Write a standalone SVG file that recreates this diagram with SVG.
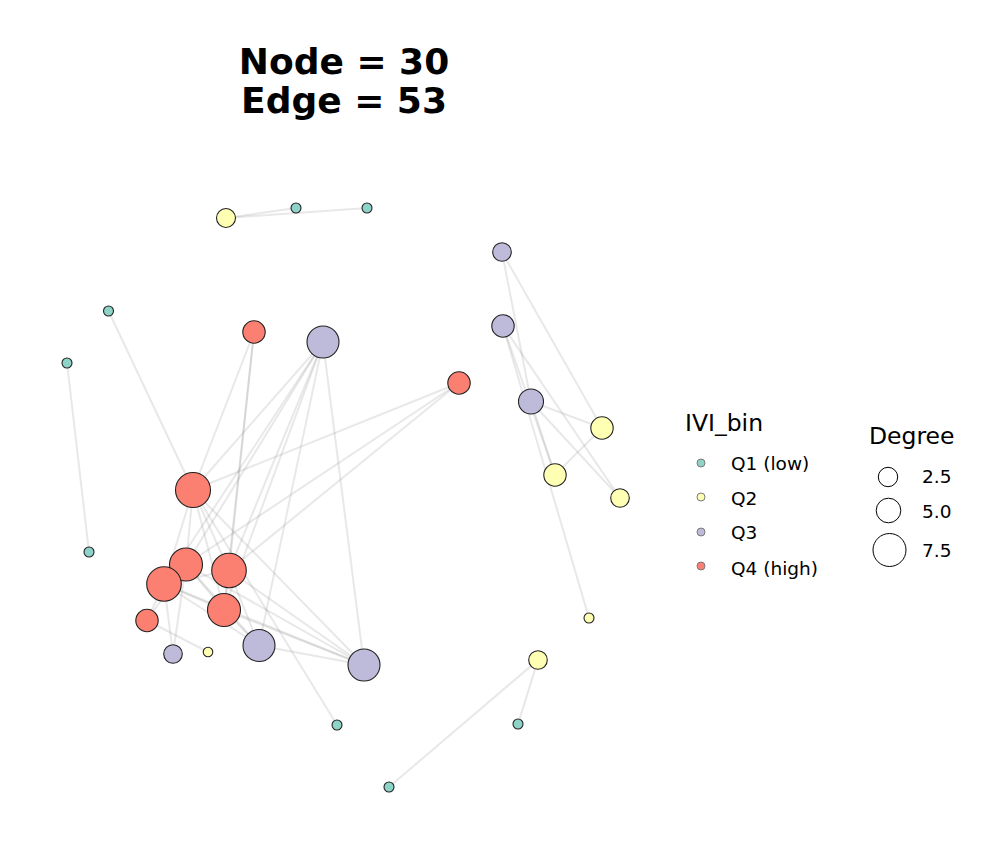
<svg xmlns="http://www.w3.org/2000/svg" width="1008" height="864" viewBox="0 0 1008 864">
<style>
text{font-family:"DejaVu Sans","Liberation Sans",sans-serif;fill:#000}
.t{font-weight:bold;font-size:36px;text-anchor:middle}
.lt{font-size:23.5px}
.li{font-size:18.5px}
#edges line{stroke:#7f7f7f;stroke-opacity:0.18;stroke-width:2}
.nd{stroke:#222;stroke-width:1.1}
.q1{fill:#8DD3C7}.q2{fill:#FFFFB3}.q3{fill:#BEBADA}.q4{fill:#FB8072}
.lk{stroke:#7a7a7a;stroke-width:1}
.sz{fill:none;stroke:#000;stroke-width:1}
</style>
<rect width="1008" height="864" fill="#fff"/>
<text class="t" x="344" y="74">Node = 30</text>
<text class="t" x="344" y="113">Edge = 53</text>
<g id="edges">
<line x1="226" y1="218" x2="296" y2="208"/>
<line x1="226" y1="218" x2="367" y2="208"/>
<line x1="67" y1="363" x2="89" y2="552"/>
<line x1="108.5" y1="311" x2="193" y2="490"/>
<line x1="502" y1="252" x2="602" y2="428"/>
<line x1="502" y1="252" x2="531" y2="401.5"/>
<line x1="503" y1="326" x2="620" y2="498"/>
<line x1="503" y1="326" x2="555" y2="475"/>
<line x1="503" y1="326" x2="589" y2="618"/>
<line x1="531" y1="401.5" x2="602" y2="428"/>
<line x1="531" y1="401.5" x2="555" y2="475"/>
<line x1="531" y1="401.5" x2="620" y2="498"/>
<line x1="602" y1="428" x2="555" y2="475"/>
<line x1="538" y1="660" x2="518" y2="724"/>
<line x1="538" y1="660" x2="389" y2="787"/>
<line x1="254" y1="332" x2="193" y2="490"/>
<line x1="254" y1="332" x2="229" y2="570.5"/>
<line x1="254" y1="332" x2="224" y2="610"/>
<line x1="323" y1="342" x2="193" y2="490"/>
<line x1="323" y1="342" x2="186" y2="564.5"/>
<line x1="323" y1="342" x2="229" y2="570.5"/>
<line x1="323" y1="342" x2="164" y2="584"/>
<line x1="323" y1="342" x2="224" y2="610"/>
<line x1="323" y1="342" x2="259" y2="645.5"/>
<line x1="323" y1="342" x2="364" y2="665"/>
<line x1="459" y1="383" x2="193" y2="490"/>
<line x1="459" y1="383" x2="186" y2="564.5"/>
<line x1="459" y1="383" x2="229" y2="570.5"/>
<line x1="193" y1="490" x2="186" y2="564.5"/>
<line x1="193" y1="490" x2="229" y2="570.5"/>
<line x1="193" y1="490" x2="164" y2="584"/>
<line x1="193" y1="490" x2="224" y2="610"/>
<line x1="193" y1="490" x2="364" y2="665"/>
<line x1="193" y1="490" x2="337" y2="725"/>
<line x1="186" y1="564.5" x2="164" y2="584"/>
<line x1="186" y1="564.5" x2="224" y2="610"/>
<line x1="186" y1="564.5" x2="364" y2="665"/>
<line x1="186" y1="564.5" x2="259" y2="645.5"/>
<line x1="229" y1="570.5" x2="164" y2="584"/>
<line x1="229" y1="570.5" x2="224" y2="610"/>
<line x1="229" y1="570.5" x2="364" y2="665"/>
<line x1="229" y1="570.5" x2="259" y2="645.5"/>
<line x1="164" y1="584" x2="224" y2="610"/>
<line x1="164" y1="584" x2="147" y2="620.5"/>
<line x1="164" y1="584" x2="173" y2="654"/>
<line x1="164" y1="584" x2="364" y2="665"/>
<line x1="224" y1="610" x2="259" y2="645.5"/>
<line x1="224" y1="610" x2="364" y2="665"/>
<line x1="147" y1="620.5" x2="208" y2="652"/>
<line x1="259" y1="645.5" x2="364" y2="665"/>
<line x1="164" y1="584" x2="259" y2="645.5"/>
<line x1="147" y1="620.5" x2="186" y2="564.5"/>
<line x1="173" y1="654" x2="186" y2="564.5"/>
</g>
<g id="n1"><circle class="nd q2" cx="226" cy="218" r="9.5"/></g>
<g id="n2"><circle class="nd q1" cx="296" cy="208" r="5"/></g>
<g id="n3"><circle class="nd q1" cx="367" cy="208" r="5"/></g>
<g id="n4"><circle class="nd q3" cx="502" cy="252" r="9.3"/></g>
<g id="n5"><circle class="nd q1" cx="108.5" cy="311" r="5"/></g>
<g id="n6"><circle class="nd q4" cx="254" cy="332" r="11.2"/></g>
<g id="n7"><circle class="nd q3" cx="323" cy="342" r="16"/></g>
<g id="n8"><circle class="nd q3" cx="503" cy="326" r="11.2"/></g>
<g id="n9"><circle class="nd q1" cx="67" cy="363" r="5"/></g>
<g id="n10"><circle class="nd q4" cx="459" cy="383" r="11.2"/></g>
<g id="n11"><circle class="nd q3" cx="531" cy="401.5" r="12.5"/></g>
<g id="n12"><circle class="nd q2" cx="602" cy="428" r="11.2"/></g>
<g id="n13"><circle class="nd q2" cx="555" cy="475" r="11.2"/></g>
<g id="n14"><circle class="nd q2" cx="620" cy="498" r="9.3"/></g>
<g id="n15"><circle class="nd q4" cx="193" cy="490" r="17.5"/></g>
<g id="n16"><circle class="nd q1" cx="89" cy="552" r="5"/></g>
<g id="n17"><circle class="nd q4" cx="186" cy="564.5" r="16.5"/></g>
<g id="n18"><circle class="nd q4" cx="229" cy="570.5" r="17.3"/></g>
<g id="n19"><circle class="nd q4" cx="164" cy="584" r="17.3"/></g>
<g id="n20"><circle class="nd q4" cx="224" cy="610" r="16.5"/></g>
<g id="n21"><circle class="nd q4" cx="147" cy="620.5" r="11.2"/></g>
<g id="n22"><circle class="nd q2" cx="589" cy="618" r="5"/></g>
<g id="n23"><circle class="nd q3" cx="173" cy="654" r="9.3"/></g>
<g id="n24"><circle class="nd q2" cx="208" cy="652" r="4.8"/></g>
<g id="n25"><circle class="nd q3" cx="259" cy="645.5" r="16"/></g>
<g id="n26"><circle class="nd q3" cx="364" cy="665" r="16"/></g>
<g id="n27"><circle class="nd q2" cx="538" cy="660" r="9.3"/></g>
<g id="n28"><circle class="nd q1" cx="337" cy="725" r="5"/></g>
<g id="n29"><circle class="nd q1" cx="518" cy="724" r="5"/></g>
<g id="n30"><circle class="nd q1" cx="389" cy="787" r="5"/></g>
<g id="legend-ivi">
<text class="lt" x="685" y="431">IVI_bin</text>
<circle class="lk q1" cx="701" cy="463" r="4"/>
<circle class="lk q2" cx="701" cy="497" r="4"/>
<circle class="lk q3" cx="701" cy="532" r="4"/>
<circle class="lk q4" cx="701" cy="566" r="4"/>
<text class="li" x="731" y="470">Q1 (low)</text>
<text class="li" x="731" y="505">Q2</text>
<text class="li" x="731" y="539">Q3</text>
<text class="li" x="731" y="575">Q4 (high)</text>
</g>
<g id="legend-degree">
<text class="lt" x="869" y="444">Degree</text>
<circle class="sz" cx="888" cy="477" r="9.7"/>
<circle class="sz" cx="888.5" cy="510.5" r="12.3"/>
<circle class="sz" cx="889.5" cy="550" r="16.5"/>
<text class="li" x="922" y="483">2.5</text>
<text class="li" x="922" y="518">5.0</text>
<text class="li" x="922" y="557">7.5</text>
</g>
</svg>
